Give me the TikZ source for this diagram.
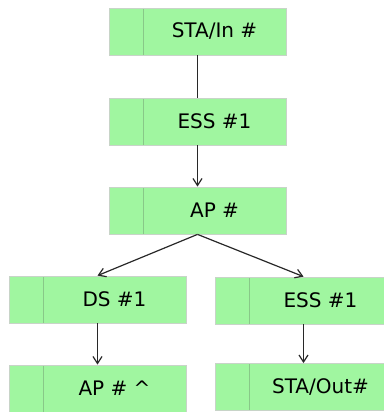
\documentclass[tikz,border=0pt]{standalone}
\usepackage{fontspec}
\setmainfont{DejaVu Sans}
\usetikzlibrary{arrows.meta}
\definecolor{boxfill}{RGB}{160,246,160}
\definecolor{boxline}{RGB}{200,212,200}
\definecolor{divline}{RGB}{136,200,136}
\definecolor{conn}{RGB}{40,40,40}
\begin{document}
\begin{tikzpicture}[x=1pt,y=-1pt,
  box/.style={draw=boxline, line width=0.8pt, fill=boxfill, minimum width=177pt, minimum height=47pt,
    inner sep=0pt, font=\fontsize{20}{24}\selectfont,
    path picture={\draw[divline, line width=0.9pt]
      ([xshift=34pt]path picture bounding box.north west) --
      ([xshift=34pt]path picture bounding box.south west);}},
  conn/.style={draw=conn, line width=1.2pt},
  arr/.style={conn, -{Straight Barb[length=7pt,width=9pt]}}]
\useasboundingbox (0,0) rectangle (383,412);
\node[box] (sta) at (197.5,31.5) {\hspace*{34pt}STA/In \#};
\node[box] (ess) at (197.5,121.5) {\hspace*{34pt}ESS \#1};
\node[box] (ap) at (197.5,210.5) {\hspace*{34pt}AP \#};
\node[box] (ds) at (97.5,299.5) {\hspace*{34pt}DS \#1};
\node[box] (essr) at (303.5,300.5) {\hspace*{34pt}ESS \#1};
\node[box] (apx) at (97.5,388.5) {\hspace*{34pt}AP \# \^{}};
\node[box] (out) at (303.5,387) {\hspace*{34pt}STA/Out\#};
\draw[conn] (sta.south) -- (ess.north);
\draw[arr] (ess.south) -- (ap.north);
\draw[arr] (ap.south) -- (ds.north);
\draw[arr] (ap.south) -- (essr.north);
\draw[arr] (ds.south) -- (apx.north);
\draw[arr] (essr.south) -- (out.north);
\end{tikzpicture}
\end{document}
